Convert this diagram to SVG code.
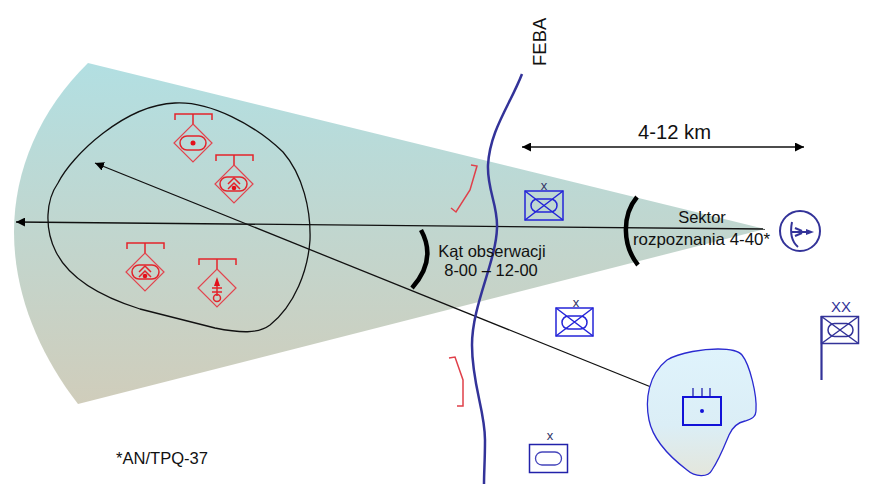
<svg xmlns="http://www.w3.org/2000/svg" width="885" height="503" viewBox="0 0 885 503">
<style>
text{font-family:"Liberation Sans",Arial,sans-serif;fill:#111}
.r{fill:none;stroke:#e3242b;stroke-width:1.5}
.rt{fill:none;stroke:#e2444e;stroke-width:1.2}
.b{fill:none;stroke:#2424d8;stroke-width:1.5}
.n{fill:none;stroke:#333399;stroke-width:1.5}
.k{fill:none;stroke:#111;stroke-width:1.3}
.h{fill:none;stroke:#000;stroke-width:4.5;stroke-linecap:butt}
</style>
<defs>
<linearGradient id="sec" x1="0" y1="0" x2="0" y2="1"><stop offset="0" stop-color="#b2dfe2"/><stop offset="1" stop-color="#d0cdbb"/></linearGradient>
<linearGradient id="blob" x1="0" y1="0" x2="0" y2="1"><stop offset="0" stop-color="#dff3fc"/><stop offset="0.6" stop-color="#dbeef6"/><stop offset="1" stop-color="#e4e6dc"/></linearGradient>
<marker id="ah" markerWidth="9" markerHeight="9" refX="9" refY="4.500" orient="auto-start-reverse" markerUnits="userSpaceOnUse"><path d="M0 0L9 4.500L0 9Z" fill="#000"/></marker>
<g id="ud"><path class="r" d="M-18-23V-29H19V-23M0-29V-19"/><path class="rt" d="M0-19L19 0L0 19L-19 0Z"/></g>
</defs>
<g id="sector"><path d="M765 229L88 63C40 110 14 170 14 232C14 295 40 355 78 404Z" fill="url(#sec)"/></g>
<g id="target-area"><path d="M175 103C210 101 255 125 283 152C303 175 311 210 310 240C308 270 295 305 270 325C258 334 240 333 215 328L140 309C105 298 70 280 56 252C44 228 46 200 58 183C72 155 125 105 175 103Z" fill="none" stroke="#111" stroke-width="1.300"/></g>
<g id="connectors">
<path class="k" d="M16 222L765 229" marker-start="url(#ah)"/>
<path class="k" d="M95 163L651 387" marker-start="url(#ah)"/>
<path class="k" d="M522 147H804" stroke-width="1.400" marker-start="url(#ah)" marker-end="url(#ah)"/>
</g>
<g id="feba"><path d="M522 74C510 105 490 130 488 165C487 190 498 205 497 228C496 262 472 305 472 345C472 385 485 410 485 440C485 460 484 472 484 484" fill="none" stroke="#333399" stroke-width="2.500"/><text transform="translate(546 66) rotate(-90)" font-size="18.500">FEBA</text></g>
<g id="range"><text x="674.500" y="139" font-size="20" text-anchor="middle" textLength="73" lengthAdjust="spacingAndGlyphs">4-12 km</text></g>
<g id="arc-sector"><path class="h" d="M637 197C622 215 622 245 638 265"/><text x="702" y="223" font-size="16.500" text-anchor="middle">Sektor</text><text x="701.500" y="245" font-size="16.500" text-anchor="middle" textLength="137" lengthAdjust="spacingAndGlyphs">rozpoznania 4-40*</text></g>
<g id="arc-angle"><path class="h" d="M421 230C432 250 428 270 412 288"/><text x="492" y="257" font-size="16.500" text-anchor="middle">Kąt obserwacji</text><text x="491" y="276" font-size="16.500" text-anchor="middle">8-00 – 12-00</text></g>
<g id="sym-1" transform="translate(193 143)"><use href="#ud"/><rect x="-13" y="-7" width="26" height="14" rx="7" class="r"/><circle r="2.500" fill="#e3101a"/></g>
<g id="sym-2" transform="translate(234 184)"><use href="#ud"/><rect x="-14" y="-7" width="27" height="14" rx="7" class="r"/><path class="r" d="M-6 0L0-6L6 0M-6 5L0-1L6 5" stroke-width="1"/><circle cy="4" r="2.300" fill="#e3101a"/></g>
<g id="sym-3" transform="translate(145 272)"><use href="#ud"/><rect x="-13" y="-7" width="27" height="14" rx="7" class="r"/><path class="r" d="M-6 0L0-6L6 0M-6 5L0-1L6 5" stroke-width="1"/><circle cy="4" r="2.300" fill="#e3101a"/></g>
<g id="sym-4" transform="translate(217 288)"><use href="#ud"/><path d="M0-11L-3-2H3Z" fill="#e3101a"/><path class="r" d="M0-2V8M-5 0H5M-5 4H5" stroke-width="1"/><circle cy="10" r="3.500" class="r" stroke-width="1"/></g>
<g id="front-1"><path d="M471 165L477 166L470 190L456 212L451 208" fill="none" stroke="#e0404a" stroke-width="1.500"/></g>
<g id="front-2"><path d="M449 358L455 357L463 380V406H457" fill="none" stroke="#e0404a" stroke-width="1.500"/></g>
<g id="brigade-1"><text x="544" y="190" font-size="13" text-anchor="middle" style="fill:#333366">x</text><rect x="525" y="191" width="38" height="29" class="b"/><path d="M525 191L563 220M563 191L525 220" class="b" stroke-width="1.200"/><rect x="531" y="199" width="26" height="13" rx="6.500" class="b" stroke-width="1.200"/></g>
<g id="brigade-2"><text x="576" y="307" font-size="13" text-anchor="middle" style="fill:#333366">x</text><rect x="556" y="308" width="37" height="28" class="b"/><path d="M556 308L593 336M593 308L556 336" class="b" stroke-width="1.200"/><rect x="562" y="316" width="25" height="13" rx="6.500" class="b" stroke-width="1.200"/></g>
<g id="brigade-3"><text x="550" y="440" font-size="13" text-anchor="middle" style="fill:#333366">x</text><rect x="529.500" y="444.500" width="38" height="28" fill="none" stroke="#2222aa" stroke-width="1.500"/><rect x="535.500" y="452" width="26" height="13" rx="6.500" fill="none" stroke="#4444bb" stroke-width="1.300"/></g>
<g id="division"><text x="841" y="312" font-size="15" text-anchor="middle" style="fill:#333399">XX</text><path d="M821.500 380V316" stroke="#333399" stroke-width="2.200" fill="none"/><rect x="821.500" y="316.500" width="37" height="27" class="n"/><path d="M821.500 316.500L858.500 343.500M858.500 316.500L821.500 343.500" class="n" stroke-width="1"/><rect x="828" y="323.500" width="25" height="13" rx="6.500" class="n" stroke-width="1"/></g>
<g id="radar"><circle cx="800" cy="231" r="20" fill="none" stroke="#333399" stroke-width="2"/><path d="M792 222C790 232 791 241 798 247M792 232L810 232M795 228L802 231M795 236L802 233" fill="none" stroke="#333399" stroke-width="2"/><path d="M814 232L806 229V235Z" fill="#333399"/></g>
<g id="unit-area"><path d="M667 360C680 352 705 349 718 349C730 349 738 350 742 355C750 365 757 395 756 410C756 417 752 419 745 421C736 423 732 428 729 435C724 447 719 460 712 470C708 478 695 477 687 470C670 457 653 440 649 420C645 400 648 375 667 360Z" fill="url(#blob)" stroke="#2a2ad0" stroke-width="1.300"/><rect x="683" y="397" width="38" height="28" fill="none" stroke="#1212d8" stroke-width="2"/><path d="M693 397V388M702 397V388M710 397V388" stroke="#1212aa" stroke-width="1.200" fill="none"/><circle cx="702" cy="411" r="2" fill="#1212d8"/></g>
<g id="note"><text x="116" y="464" font-size="16.500" textLength="92" lengthAdjust="spacingAndGlyphs">*AN/TPQ-37</text></g>
</svg>
